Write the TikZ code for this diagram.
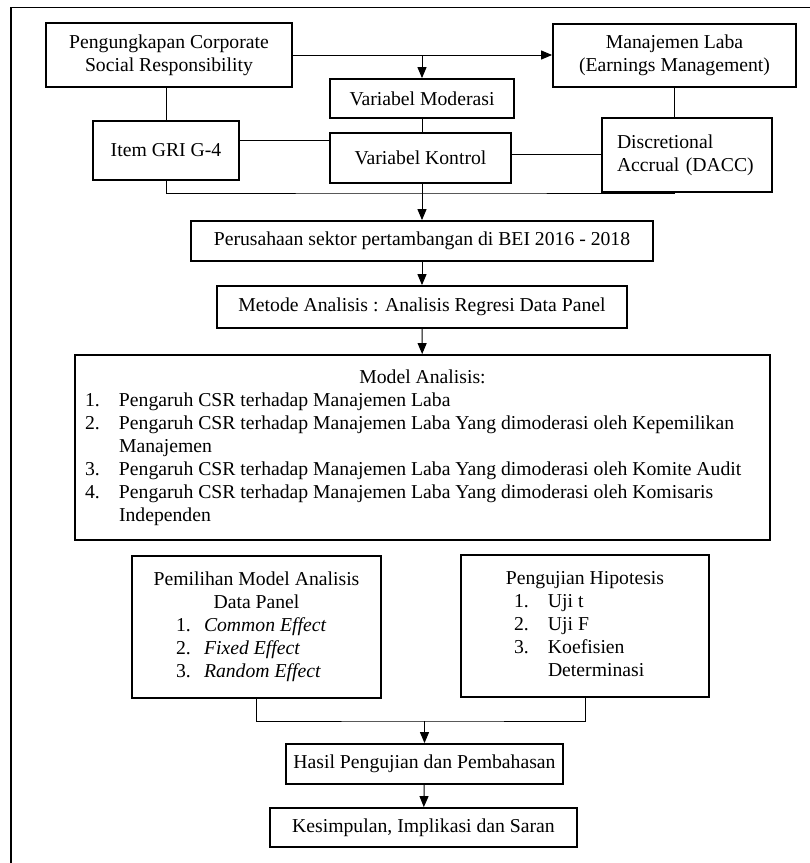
\documentclass[tikz,border=0pt]{standalone}
\usepackage{fontspec}
\setmainfont{Liberation Serif}
\usetikzlibrary{arrows.meta}
\tikzset{
  box/.style={draw, line width=1.8pt, inner sep=0pt, align=center},
  link/.style={line width=1pt},
  arr/.style={-{Triangle[length=11pt,width=9pt]}},
}

\begin{document}
\begin{tikzpicture}[x=1pt, y=-1pt, font=\fontsize{19.7}{23}\selectfont]
\useasboundingbox (0,0) rectangle (810,863);
%% frame
\draw[line width=1.8pt] (810,7.5) -- (11,7.5) -- (11,863);
%% first row
\node[box, minimum width=246pt, minimum height=64pt] (csr) at (169,55) {Pengungkapan Corporate\\Social Responsibility};
\node[box, minimum width=243pt, minimum height=63pt] (ml) at (674.5,55.5) {Manajemen Laba\\(Earnings Management)};
\node[box, minimum width=184pt, minimum height=39pt] (vm) at (422,98.5) {Variabel Moderasi};
\node[box, minimum width=146pt, minimum height=59pt] (gri) at (166,150.5) {Item GRI G-4};
\node[box, minimum width=181pt, minimum height=50pt] (vk) at (420.5,158) {Variabel Kontrol};
\node[box, minimum width=170pt, minimum height=74pt, align=left, text width=140pt] (dacc) at (687,155) {Discretional\\Accrual (DACC)};
  \draw[link, arr] (csr.east) -- (csr.east -| ml.west);
  \draw[link, arr] (vm.north |- csr.east) -- (vm.north);
  \draw[link] (csr.south -| gri.north) -- (gri.north);
  \draw[link] (vm.south) -- (vm.south |- vk.north);
  \draw[link] ([yshift=10.5pt]gri.east) -- ([yshift=10.5pt]gri.east -| vk.west);
  \draw[link] ([yshift=4pt]vk.east) -- ([yshift=4pt]vk.east -| dacc.west);
  \draw[link] (ml.south) -- (ml.south |- dacc.north);
\coordinate (join1) at (422,193);
  \draw[link] (gri.south) |- (join1) -| (ml.south |- dacc.south);
  \draw[link] (join1 |- vk.south) -- (join1);
%% method
\node[box, minimum width=462pt, minimum height=40pt] (bei) at (422,241) {Perusahaan sektor pertambangan di BEI 2016 - 2018};
\node[box, minimum width=410pt, minimum height=42pt] (metode) at (422,307) {Metode Analisis : Analisis Regresi Data Panel};
  \draw[link, arr] (join1) -- (bei.north);
  \draw[link, arr] (bei) -- (metode);
%% model
\node[box, minimum width=695pt, minimum height=185pt] (model) at (422.5,447.5) {%
  \begin{tabular}{@{\hspace{10pt}}p{34pt}@{}p{651pt}@{}}
  \multicolumn{2}{@{}c@{}}{Model Analisis:}\\
  1. & Pengaruh CSR terhadap Manajemen Laba\\
  2. & Pengaruh CSR terhadap Manajemen Laba Yang dimoderasi oleh Kepemilikan\\
     & Manajemen\\
  3. & Pengaruh CSR terhadap Manajemen Laba Yang dimoderasi oleh Komite Audit\\
  4. & Pengaruh CSR terhadap Manajemen Laba Yang dimoderasi oleh Komisaris\\
     & Independen
  \end{tabular}};
  \draw[link, arr] (metode) -- (model);
%% lower boxes
\node[box, minimum width=249pt, minimum height=142pt] (pilih) at (256.5,627) {%
  \begin{tabular}{@{\hspace{44pt}}p{28pt}@{}p{177pt}@{}}
  \multicolumn{2}{@{}c@{}}{Pemilihan Model Analisis}\\
  \multicolumn{2}{@{}c@{}}{Data Panel}\\
  1. & \textit{Common Effect}\\
  2. & \textit{Fixed Effect}\\
  3. & \textit{Random Effect}
  \end{tabular}};
\node[box, minimum width=248pt, minimum height=142pt] (uji) at (585,626) {%
  \begin{tabular}{@{\hspace{53pt}}p{34pt}@{}p{161pt}@{}}
  \multicolumn{2}{@{}c@{}}{Pengujian Hipotesis}\\
  1. & Uji t\\
  2. & Uji F\\
  3. & Koefisien\\
     & Determinasi
  \end{tabular}};
\coordinate (join2) at (424.5,721);
  \draw[link] (pilih.south) |- (join2) -| (uji.south);
%% results
\node[box, minimum width=277pt, minimum height=40pt] (hasil) at (424.5,764) {Hasil Pengujian dan Pembahasan};
\node[box, minimum width=307pt, minimum height=39pt] (simpul) at (423.5,827.5) {Kesimpulan, Implikasi dan Saran};
  \draw[link, arr] (join2) -- (hasil.north);
  \draw[link, arr] (hasil) -- (simpul);
\end{tikzpicture}
\end{document}
